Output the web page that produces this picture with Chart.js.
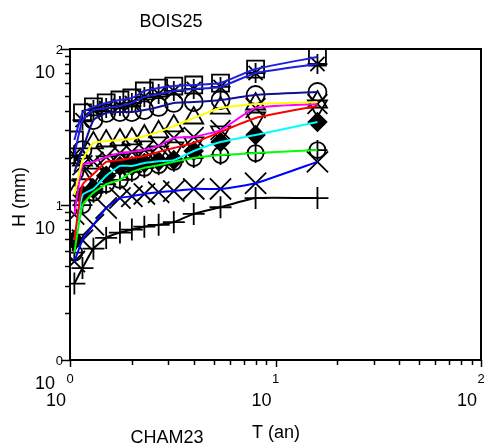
<!DOCTYPE html>
<html><head><meta charset="utf-8">
<script src="https://cdn.jsdelivr.net/npm/chart.js@4.4.0/dist/chart.umd.min.js"></script>
<style>html,body{margin:0;padding:0;background:#fff;overflow:hidden}canvas{display:block}</style>
</head><body>
<canvas id="c" width="487" height="446"></canvas>
<script>
// ---- data ----
const T        = [1.05, 1.15, 1.3, 1.5, 1.75, 2, 2.3, 2.7, 3.2, 4, 5.4, 8, 16];
const blueA    = [26.0, 38.8, 42.4, 45.0, 47.0, 48.4, 53.7, 56.1, 57.8, 58.7, 60.4, 74.3, 88.8];
const blueB    = [20.8, 34.9, 40.5, 41.7, 43.0, 45.0, 49.1, 51.3, 53.7, 55.3, 57.0, 70.1, 80.1];
const navy     = [16.2, 22.4, 34.9, 38.8, 39.3, 39.3, 40.5, 42.4, 45.0, 45.6, 47.0, 50.6, 52.9];
const yellow   = [11.5, 19.3, 24.9, 25.6, 26.0, 26.4, 27.6, 29.3, 32.0, 36.0, 41.7, 44.3, 45.6];
const magenta  = [8.6, 17.9, 18.8, 20.2, 21.4, 21.8, 22.4, 23.8, 26.8, 27.2, 30.1, 41.7, 44.3];
const red      = [5.9, 13.4, 15.7, 18.8, 19.3, 19.9, 20.5, 21.8, 23.1, 24.9, 29.3, 36.0, 43.0];
const cyan     = [5.9, 11.5, 12.6, 15.3, 17.7, 17.7, 18.5, 19.0, 19.3, 22.1, 25.2, 28.0, 33.9];
const green    = [4.9, 9.9, 11.9, 13.5, 14.4, 16.2, 17.2, 17.9, 18.8, 19.9, 20.8, 21.4, 22.4];
const blueLow  = [4.3, 5.9, 7.4, 9.5, 11.0, 11.3, 11.7, 12.0, 12.2, 12.6, 12.6, 13.7, 18.8];
const black    = [3.1, 3.9, 5.2, 6.1, 6.6, 6.9, 7.2, 7.4, 7.7, 8.7, 9.6, 11.0, 11.0];

const xTickExps = ['0', '1', '2'];
const yTickExps = ['0', '1', '2'];
const tickBase = '10';
const titleTop = 'BOIS25';
const titleBottom = 'CHAM23';
const xTitle = 'T (an)';
const yTitle = 'H (mm)';

// ---- styling ----
const series = [
  {v: blueA,   c: '#1e1ee0', m: [{s: 'rect', r: 12}]},
  {v: blueB,   c: '#1e1ee0', m: [{s: 'star', r: 10}]},
  {v: navy,    c: '#101090', m: [{s: 'circle', r: 9}]},
  {v: yellow,  c: '#ffff00', m: [{s: 'triangle', r: 11}]},
  {v: magenta, c: '#ff00ff', m: [{s: 'crossRot', r: 14}]},
  {v: red,     c: '#ff0000', m: [{s: 'triangle', r: 11, rot: 180}]},
  {v: cyan,    c: '#00ffff', m: [{s: 'rectRot', r: 9, fill: true}]},
  {v: green,   c: '#00ff00', m: [{s: 'circle', r: 8}, {s: 'cross', r: 10}]},
  {v: blueLow, c: '#0000ff', m: [{s: 'crossRot', r: 15}]},
  {v: black,   c: '#000000', m: [{s: 'cross', r: 11}]}
];

const pts = arr => T.map((t, i) => ({x: t, y: arr[i]}));
const datasets = [];
series.forEach(s => {
  datasets.push({
    data: pts(s.v), borderColor: s.c, borderWidth: 2, pointRadius: 0,
    showLine: true, fill: false, tension: 0.15, order: 0
  });
  s.m.forEach(mk => {
    datasets.push({
      data: pts(s.v), showLine: false, pointStyle: mk.s, pointRadius: mk.r,
      pointRotation: mk.rot || 0,
      pointBorderColor: '#000', pointBorderWidth: 1.8,
      pointBackgroundColor: mk.fill ? '#000' : 'rgba(0,0,0,0)', order: 1
    });
  });
});

const FONT = "'Liberation Sans', Arial, sans-serif";
const deco = {
  id: 'deco',
  beforeDraw(chart) {
    const c = chart.ctx; c.save(); c.fillStyle = '#fff';
    c.fillRect(0, 0, chart.width, chart.height); c.restore();
  },
  afterDraw(chart) {
    const ctx = chart.ctx, xs = chart.scales.x, ys = chart.scales.y, a = chart.chartArea;
    ctx.save();
    ctx.strokeStyle = '#000';
    ctx.lineWidth = 2;
    ctx.strokeRect(a.left, a.top, a.right - a.left, a.bottom - a.top);
    ctx.lineWidth = 1.5;
    const seg = (x1, y1, x2, y2) => { ctx.beginPath(); ctx.moveTo(x1, y1); ctx.lineTo(x2, y2); ctx.stroke(); };
    // y ticks
    yTickExps.forEach((e, k) => {
      for (let m = 1; m < 10; m++) {
        if (k === yTickExps.length - 1 && m > 1) break;
        const py = Math.round(ys.getPixelForValue(m * Math.pow(10, +e))) + 0.5;
        seg(a.left - (m === 1 ? 9 : 5), py, a.left, py);
      }
    });
    // x ticks
    xTickExps.forEach((e, k) => {
      for (let m = 1; m < 10; m++) {
        if (k === xTickExps.length - 1 && m > 1) break;
        const px = Math.round(xs.getPixelForValue(m * Math.pow(10, +e))) + 0.5;
        seg(px, a.bottom, px, a.bottom + (m === 1 ? 7 : 5));
      }
    });
    ctx.fillStyle = '#000';
    // y labels
    yTickExps.forEach(e => {
      const py = ys.getPixelForValue(Math.pow(10, +e));
      ctx.font = '13px ' + FONT; ctx.textAlign = 'right'; ctx.textBaseline = 'middle';
      ctx.fillText(e, 63, py + 1.5);
      ctx.font = '18px ' + FONT; ctx.textBaseline = 'alphabetic';
      ctx.fillText(tickBase, 55, py + 29);
    });
    // x labels
    xTickExps.forEach(e => {
      const px = xs.getPixelForValue(Math.pow(10, +e));
      ctx.font = '13px ' + FONT; ctx.textAlign = 'center'; ctx.textBaseline = 'alphabetic';
      ctx.fillText(e, px, a.bottom + 23);
      ctx.font = '18px ' + FONT;
      ctx.fillText(tickBase, px - 14, a.bottom + 46);
    });
    // titles
    ctx.font = '18px ' + FONT; ctx.textAlign = 'center'; ctx.textBaseline = 'alphabetic';
    ctx.fillText(titleTop, 171, 27);
    ctx.fillText(titleBottom, 167, 443);
    ctx.textAlign = 'left';
    ctx.fillText(xTitle, 252, 438);
    ctx.save();
    ctx.translate(25, 197); ctx.rotate(-Math.PI / 2);
    ctx.textAlign = 'center';
    ctx.fillText(yTitle, 0, 0);
    ctx.restore();
    ctx.restore();
  }
};

new Chart(document.getElementById('c'), {
  type: 'line',
  data: {datasets},
  options: {
    responsive: false, animation: false, devicePixelRatio: 1,
    layout: {autoPadding: false, padding: {left: 70, top: 49, right: 6, bottom: 86}},
    plugins: {legend: {display: false}, tooltip: {enabled: false}, title: {display: false}},
    scales: {
      x: {type: 'logarithmic', min: 1, max: 100, display: false},
      y: {type: 'logarithmic', min: 1, max: 100, display: false}
    }
  },
  plugins: [deco]
});
</script>
</body></html>
